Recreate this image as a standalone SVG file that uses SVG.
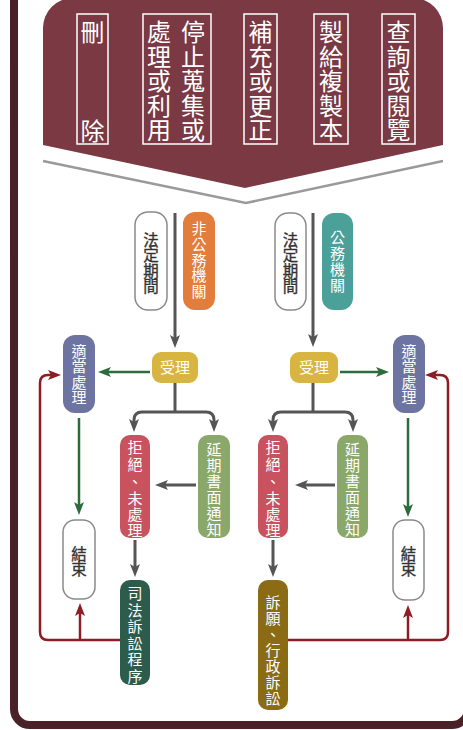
<svg xmlns="http://www.w3.org/2000/svg" width="463" height="730" viewBox="0 0 463 730">
<defs>
<style>
text{font-family:"Noto Sans CJK TC","Noto Sans CJK SC",sans-serif;text-anchor:middle}
.bt{font-size:24px;fill:#fff}
.nt{font-size:15px;fill:#fff}
.dt{font-size:15.5px;fill:#333;stroke:#333;stroke-width:0.35}
.bbox{fill:none;stroke:#fff;stroke-width:1.5}
.wbox{fill:#fff;stroke:#8a8a8a;stroke-width:1.5}
.g{fill:none;stroke:#555;stroke-width:3}
.gr{fill:none;stroke:#2d6b3c;stroke-width:2.5}
.rd{fill:none;stroke:#8c1d25;stroke-width:2.5}
</style>
<marker id="ag" markerUnits="userSpaceOnUse" markerWidth="14" markerHeight="10" refX="7" refY="5" orient="auto"><path d="M0,0 L13,5 L0,10 L3,5 Z" fill="#555"/></marker>
<marker id="agr" markerUnits="userSpaceOnUse" markerWidth="14" markerHeight="10" refX="7" refY="5" orient="auto"><path d="M0,0 L13,5 L0,10 L3,5 Z" fill="#2d6b3c"/></marker>
<marker id="ard" markerUnits="userSpaceOnUse" markerWidth="14" markerHeight="10" refX="7" refY="5" orient="auto"><path d="M0,0 L13,5 L0,10 L3,5 Z" fill="#8c1d25"/></marker>
</defs>
<rect x="0" y="0" width="463" height="730" fill="#fff"/>
<rect id="frame" x="14" y="-40" width="454" height="765" rx="16" fill="#fff" stroke="#4b2128" stroke-width="8"/>

<g id="banner">
<path d="M43,145 V28 A30,30 0 0 1 73,-2 H413 A30,30 0 0 1 443,28 V145 L245,188 Z" fill="#7a3943"/>
<path d="M43,161 L246,203 L443,161" fill="none" stroke="#9a9a9a" stroke-width="2.5"/>
</g>
<g id="t-delete">
<rect class="bbox" x="77" y="14" width="31" height="130"/>
<text class="bt"><tspan x="92.5" y="41">刪</tspan><tspan x="92.5" y="140">除</tspan></text>
</g>
<g id="t-stop">
<rect class="bbox" x="143" y="14" width="68" height="130"/>
<text class="bt"><tspan x="193" y="41">停</tspan><tspan x="193" y="65.5">止</tspan><tspan x="193" y="90">蒐</tspan><tspan x="193" y="114.5">集</tspan><tspan x="193" y="139">或</tspan></text>
<text class="bt"><tspan x="159" y="41">處</tspan><tspan x="159" y="65.5">理</tspan><tspan x="159" y="90">或</tspan><tspan x="159" y="114.5">利</tspan><tspan x="159" y="139">用</tspan></text>
</g>
<g id="t-supplement">
<rect class="bbox" x="244" y="14" width="33" height="130"/>
<text class="bt"><tspan x="260.5" y="41">補</tspan><tspan x="260.5" y="65.5">充</tspan><tspan x="260.5" y="90">或</tspan><tspan x="260.5" y="114.5">更</tspan><tspan x="260.5" y="139">正</tspan></text>
</g>
<g id="t-copy">
<rect class="bbox" x="314" y="14" width="34" height="130"/>
<text class="bt"><tspan x="331" y="41">製</tspan><tspan x="331" y="65.5">給</tspan><tspan x="331" y="90">複</tspan><tspan x="331" y="114.5">製</tspan><tspan x="331" y="139">本</tspan></text>
</g>
<g id="t-query">
<rect class="bbox" x="382" y="14" width="33" height="130"/>
<text class="bt"><tspan x="398.5" y="41">查</tspan><tspan x="398.5" y="65.5">詢</tspan><tspan x="398.5" y="90">或</tspan><tspan x="398.5" y="114.5">閱</tspan><tspan x="398.5" y="139">覽</tspan></text>
</g>

<g id="connectors">
<path class="g" d="M175,213 V342" marker-end="url(#ag)"/>
<path class="g" d="M313,213 V341" marker-end="url(#ag)"/>
<path class="g" d="M175,383 V412"/>
<path class="g" d="M142,412 H206 Q214,412 214,420 V426" marker-end="url(#ag)"/>
<path class="g" d="M142,412 Q134,412 134,420 V426" marker-end="url(#ag)"/>
<path class="g" d="M313,383 V412"/>
<path class="g" d="M281,412 H345 Q353,412 353,420 V426" marker-end="url(#ag)"/>
<path class="g" d="M281,412 Q273,412 273,420 V426" marker-end="url(#ag)"/>
<path class="g" d="M196,485 H161" marker-end="url(#ag)"/>
<path class="g" d="M335,485 H301" marker-end="url(#ag)"/>
<path class="g" d="M135,540 V571" marker-end="url(#ag)"/>
<path class="g" d="M273,540 V571" marker-end="url(#ag)"/>
<path class="gr" d="M150,372 H104" marker-end="url(#agr)"/>
<path class="gr" d="M340,372 H383" marker-end="url(#agr)"/>
<path class="gr" d="M79,418 V509" marker-end="url(#agr)"/>
<path class="gr" d="M408,418 V511" marker-end="url(#agr)"/>
<path class="rd" d="M120,640 H48 Q40,640 40,632 V383 Q40,375 48,375 H55" marker-end="url(#ard)"/>
<path class="rd" d="M80,640 V609" marker-end="url(#ard)"/>
<path class="rd" d="M288,640 H440 Q448,640 448,632 V383 Q448,375 440,375 H431" marker-end="url(#ard)"/>
<path class="rd" d="M408,640 V611" marker-end="url(#ard)"/>
</g>

<g id="law-left">
<rect class="wbox" x="135" y="212" width="32" height="98" rx="13"/>
<text class="dt"><tspan x="151" y="245.5">法</tspan><tspan x="151" y="261">定</tspan><tspan x="151" y="276.5">期</tspan><tspan x="151" y="292">間</tspan></text>
</g>
<g id="nonpublic">
<rect x="183" y="212" width="32" height="98" rx="12" fill="#e27d3c"/>
<text class="nt"><tspan x="199" y="233.7">非</tspan><tspan x="199" y="249.7">公</tspan><tspan x="199" y="265.7">務</tspan><tspan x="199" y="281.2">機</tspan><tspan x="199" y="296.7">關</tspan></text>
</g>
<g id="accept-left">
<rect x="152" y="352" width="46" height="31" rx="9" fill="#d8b541"/>
<text class="nt" x="175" y="372.7">受理</text>
</g>
<g id="proper-left">
<rect x="63" y="335" width="32" height="78" rx="12" fill="#6d74a1"/>
<text class="nt"><tspan x="79" y="356.7">適</tspan><tspan x="79" y="372.2">當</tspan><tspan x="79" y="387.7">處</tspan><tspan x="79" y="403.2">理</tspan></text>
</g>
<g id="reject-left">
<rect x="120" y="435" width="30" height="103" rx="10" fill="#c9525f"/>
<text class="nt"><tspan x="135" y="452.7">拒</tspan><tspan x="135" y="469.7">絕</tspan><tspan x="135" y="486.7">、</tspan><tspan x="135" y="503.7">未</tspan><tspan x="135" y="519.7">處</tspan><tspan x="135" y="535.7">理</tspan></text>
</g>
<g id="delay-left">
<rect x="198" y="435" width="32" height="103" rx="10" fill="#8ba86b"/>
<text class="nt"><tspan x="214" y="454.7">延</tspan><tspan x="214" y="470.7">期</tspan><tspan x="214" y="486.7">書</tspan><tspan x="214" y="502.7">面</tspan><tspan x="214" y="518.7">通</tspan><tspan x="214" y="534.7">知</tspan></text>
</g>
<g id="end-left">
<rect class="wbox" x="63" y="520" width="32" height="79" rx="12"/>
<text class="dt"><tspan x="79" y="559.5">結</tspan><tspan x="79" y="574.5">束</tspan></text>
</g>
<g id="court">
<rect x="120" y="580" width="30" height="105" rx="10" fill="#2e5c4c"/>
<text class="nt"><tspan x="135" y="599.2">司</tspan><tspan x="135" y="615.7">法</tspan><tspan x="135" y="632.2">訴</tspan><tspan x="135" y="648.7">訟</tspan><tspan x="135" y="665.2">程</tspan><tspan x="135" y="681.7">序</tspan></text>
</g>

<g id="law-right">
<rect class="wbox" x="275" y="213" width="31" height="97" rx="13"/>
<text class="dt"><tspan x="290.5" y="245.5">法</tspan><tspan x="290.5" y="261">定</tspan><tspan x="290.5" y="276.5">期</tspan><tspan x="290.5" y="292">間</tspan></text>
</g>
<g id="public">
<rect x="322" y="213" width="31" height="97" rx="12" fill="#4ba09a"/>
<text class="nt"><tspan x="337.5" y="242.7">公</tspan><tspan x="337.5" y="258.7">務</tspan><tspan x="337.5" y="274.7">機</tspan><tspan x="337.5" y="291.2">關</tspan></text>
</g>
<g id="accept-right">
<rect x="290" y="352" width="48" height="31" rx="9" fill="#d8b541"/>
<text class="nt" x="314" y="372.7">受理</text>
</g>
<g id="proper-right">
<rect x="393" y="335" width="32" height="78" rx="12" fill="#6d74a1"/>
<text class="nt"><tspan x="409" y="356.7">適</tspan><tspan x="409" y="372.2">當</tspan><tspan x="409" y="387.7">處</tspan><tspan x="409" y="403.2">理</tspan></text>
</g>
<g id="reject-right">
<rect x="258" y="435" width="30" height="103" rx="10" fill="#c9525f"/>
<text class="nt"><tspan x="273" y="452.7">拒</tspan><tspan x="273" y="469.7">絕</tspan><tspan x="273" y="486.7">、</tspan><tspan x="273" y="503.7">未</tspan><tspan x="273" y="519.7">處</tspan><tspan x="273" y="535.7">理</tspan></text>
</g>
<g id="delay-right">
<rect x="337" y="435" width="31" height="103" rx="10" fill="#8ba86b"/>
<text class="nt"><tspan x="352.5" y="454.7">延</tspan><tspan x="352.5" y="470.7">期</tspan><tspan x="352.5" y="486.7">書</tspan><tspan x="352.5" y="502.7">面</tspan><tspan x="352.5" y="518.7">通</tspan><tspan x="352.5" y="534.7">知</tspan></text>
</g>
<g id="end-right">
<rect class="wbox" x="393" y="520" width="31" height="80" rx="12"/>
<text class="dt"><tspan x="408.5" y="559.5">結</tspan><tspan x="408.5" y="574.5">束</tspan></text>
</g>
<g id="appeal">
<rect x="258" y="580" width="30" height="130" rx="10" fill="#8b6b13"/>
<text class="nt"><tspan x="273" y="607.7">訴</tspan><tspan x="273" y="623.7">願</tspan><tspan x="273" y="639.7">、</tspan><tspan x="273" y="655.7">行</tspan><tspan x="273" y="671.7">政</tspan><tspan x="273" y="687.7">訴</tspan><tspan x="273" y="703.7">訟</tspan></text>
</g>
</svg>
